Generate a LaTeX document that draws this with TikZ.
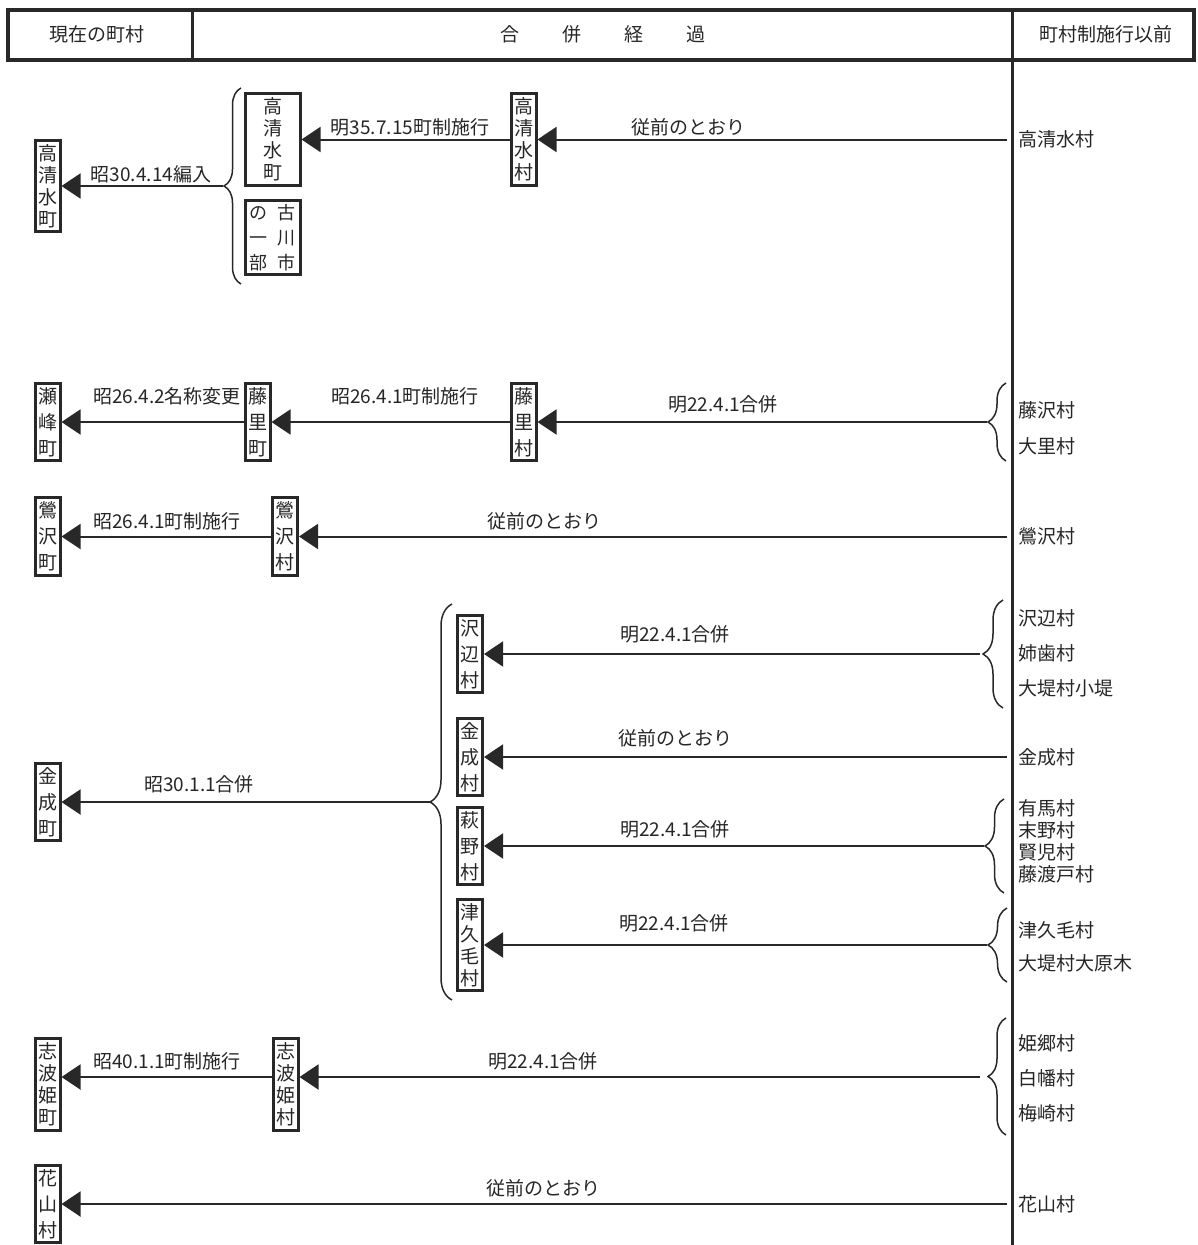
\documentclass[tikz,border=0pt]{standalone}
\usepackage{fontspec}
\setmainfont{Noto Sans CJK JP}
\usepackage{xcolor}
\usepackage{tikz}
\usetikzlibrary{arrows.meta, decorations.pathreplacing}
\definecolor{linecolor}{RGB}{40,40,40}
\definecolor{inkcolor}{RGB}{38,38,38}

\begin{document}
\begin{tikzpicture}[
    x=1pt, y=-1pt,
    box/.style={draw=linecolor, line width=3pt, inner xsep=3pt, inner ysep=4pt, align=center, text=inkcolor, font=\fontsize{19}{26}\selectfont},
    tallbox/.style={box, font=\fontsize{19}{22}\selectfont},
    lbl/.style={anchor=south, inner sep=0pt, text=inkcolor, font=\fontsize{19}{22}\selectfont},
    src/.style={anchor=west, inner sep=0pt, align=left, text=inkcolor, font=\fontsize{19}{#1}\selectfont},
    src/.default=35,
    arr/.style={draw=linecolor, line width=2pt, -{Triangle[length=19pt, width=25pt]}},
    curly/.style={draw=linecolor, line width=1.5pt, decorate, decoration={brace, amplitude=#1}}
]
    \path[use as bounding box] (0,0) rectangle (1197,1245);

    % Header row and column rules
    \draw[linecolor, line width=3.5pt] (8,10) rectangle (1194,60);
    \draw[linecolor, line width=3pt] (192,10) -- (192,60);
    \draw[linecolor, line width=3pt] (1012,10) -- (1012,1245);
    \node[lbl, anchor=center] (hnow) at (97,34) {現在の町村};
    \node[lbl, anchor=center] (hproc) at (603,34) {合\hspace{43pt}併\hspace{43pt}経\hspace{43pt}過};
    \node[lbl, anchor=center] (hold) at (1106,34) {町村制施行以前};

    % Takashimizu
    \node[tallbox] (now1) at (47.5,186) {高\\清\\水\\町};
    \node[tallbox, minimum width=55pt] (mid1) at (272.5,139.5) {高\\清\\水\\町};
    \node[box, minimum width=55pt, font=\fontsize{18}{25}\selectfont] (old1) at (272.5,237.5) {の\hspace{10pt}古\\一\hspace{10pt}川\\部\hspace{10pt}市};
    \node[tallbox] (vil1) at (523.5,139.5) {高\\清\\水\\村};
    \node[src] (src1) at (1018,139.5) {高清水村};
    \draw[curly=17pt] (241,284) -- (241,88);
    \coordinate (t1) at (223,186);
    \draw[arr] (t1) -- (now1.east);
    \draw[arr] (vil1.west) -- (mid1.east);
    \draw[arr, shorten <=11pt] (src1.west) -- (vil1.east);
    \node[lbl] (l1a) at (151,183) {昭30.4.14編入};
    \node[lbl] (l1b) at (410,136) {明35.7.15町制施行};
    \node[lbl] (l1c) at (688,136) {従前のとおり};

    % Semine
    \node[box] (now2) at (47.5,422) {瀬\\峰\\町};
    \node[box] (mid2) at (257.5,422) {藤\\里\\町};
    \node[box] (vil2) at (523.5,422) {藤\\里\\村};
    \node[src=36] (src2) at (1018,428) {藤沢村\\大里村};
    \draw[curly=18pt] (1006,461) -- (1006,383);
    \coordinate (t2) at (987,422);
    \draw[arr] (t2) -- (vil2.east);
    \draw[arr] (vil2.west) -- (mid2.east);
    \draw[arr] (mid2.west) -- (now2.east);
    \node[lbl] (l2a) at (167,405) {昭26.4.2名称変更};
    \node[lbl] (l2b) at (405,405) {昭26.4.1町制施行};
    \node[lbl] (l2c) at (723,413) {明22.4.1合併};

    % Uguisuzawa
    \node[box] (now3) at (47.5,536.5) {鶯\\沢\\町};
    \node[box] (vil3) at (285,536.5) {鶯\\沢\\村};
    \node[src] (src3) at (1018,536.5) {鶯沢村};
    \draw[arr, shorten <=11pt] (src3.west) -- (vil3.east);
    \draw[arr] (vil3.west) -- (now3.east);
    \node[lbl] (l3a) at (167,530) {昭26.4.1町制施行};
    \node[lbl] (l3b) at (544,530) {従前のとおり};

    % Kannari
    \node[box] (now4) at (47.5,802) {金\\成\\町};
    \node[box] (vil4a) at (470,654) {沢\\辺\\村};
    \node[box] (vil4b) at (470,757) {金\\成\\村};
    \node[box] (vil4c) at (470,846) {萩\\野\\村};
    \node[tallbox] (vil4d) at (470,945) {津\\久\\毛\\村};
    \draw[curly=22pt] (452,1000) -- (452,604);
    \coordinate (t4) at (430,802);
    \draw[arr] (t4) -- (now4.east);
    \node[lbl] (l4) at (199,793) {昭30.1.1合併};
    \node[src] (src4a) at (1018,653) {沢辺村\\姉歯村\\大堤村小堤};
    \draw[curly=20pt] (1003,708) -- (1003,600);
    \coordinate (t4a) at (980,654);
    \draw[arr] (t4a) -- (vil4a.east);
    \node[lbl] (l4a) at (675,643) {明22.4.1合併};
    \node[src] (src4b) at (1018,757) {金成村};
    \draw[arr, shorten <=11pt] (src4b.west) -- (vil4b.east);
    \node[lbl] (l4b) at (675,747) {従前のとおり};
    \node[src=22] (src4c) at (1018,841) {有馬村\\末野村\\賢児村\\藤渡戸村};
    \draw[curly=19pt] (1004,893) -- (1004,799);
    \coordinate (t4c) at (984,846);
    \draw[arr] (t4c) -- (vil4c.east);
    \node[lbl] (l4c) at (675,838) {明22.4.1合併};
    \node[src=33] (src4d) at (1018,946.5) {津久毛村\\大堤村大原木};
    \draw[curly=19pt] (1007,982) -- (1007,908);
    \coordinate (t4d) at (987,945);
    \draw[arr] (t4d) -- (vil4d.east);
    \node[lbl] (l4d) at (674,932) {明22.4.1合併};

    % Shiwahime
    \node[tallbox] (now5) at (47.5,1084.5) {志\\波\\姫\\町};
    \node[tallbox] (vil5) at (285.5,1084.5) {志\\波\\姫\\村};
    \node[src] (src5) at (1018,1078) {姫郷村\\白幡村\\梅崎村};
    \draw[curly=18pt] (1006,1135) -- (1006,1018);
    \coordinate (t5) at (980,1077);
    \draw[arr] (t5) -- (vil5.east |- t5);
    \draw[arr] (vil5.west |- t5) -- (now5.east |- t5);
    \node[lbl] (l5a) at (167,1070) {昭40.1.1町制施行};
    \node[lbl] (l5b) at (543,1070) {明22.4.1合併};

    % Hanayama
    \node[box] (now6) at (47.5,1204) {花\\山\\村};
    \node[src] (src6) at (1018,1204) {花山村};
    \draw[arr, shorten <=11pt] (src6.west) -- (now6.east);
    \node[lbl] (l6) at (543,1197) {従前のとおり};
\end{tikzpicture}
\end{document}
